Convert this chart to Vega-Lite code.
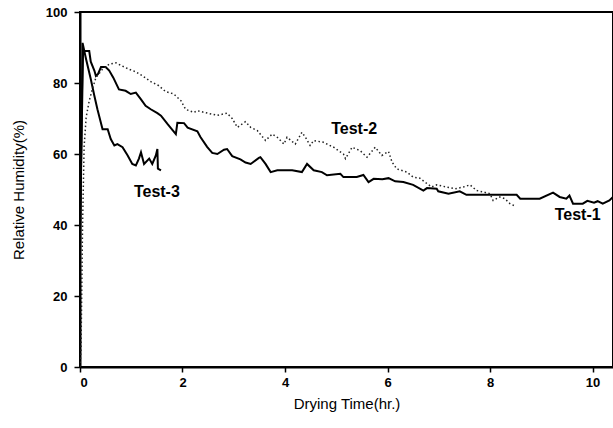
{
  "$schema": "https://vega.github.io/schema/vega-lite/v6.json",
  "autosize": {"type": "none"},
  "padding": {"left": 80, "top": 12, "right": 0, "bottom": 61},
  "width": 533,
  "height": 355,
  "background": "white",
  "config": {
    "view": {"stroke": "black", "strokeWidth": 2},
    "axis": {
      "grid": false,
      "domainColor": "black",
      "domainWidth": 2,
      "tickColor": "black",
      "tickWidth": 1.5,
      "labelFont": "Liberation Sans",
      "labelFontWeight": "bold",
      "labelFontSize": 13,
      "labelColor": "black",
      "titleFont": "Liberation Sans",
      "titleFontWeight": "normal",
      "titleFontSize": 15,
      "titleColor": "black"
    }
  },
  "datasets": {
    "curves": [
      {"s": "Test-1", "t": 0.0, "rh": 40},
      {"s": "Test-1", "t": 0.06, "rh": 89},
      {"s": "Test-1", "t": 0.18, "rh": 89},
      {"s": "Test-1", "t": 0.21, "rh": 86},
      {"s": "Test-1", "t": 0.28, "rh": 83.5},
      {"s": "Test-1", "t": 0.31, "rh": 82},
      {"s": "Test-1", "t": 0.35, "rh": 82.5},
      {"s": "Test-1", "t": 0.41, "rh": 84.5},
      {"s": "Test-1", "t": 0.5, "rh": 84.5},
      {"s": "Test-1", "t": 0.57, "rh": 83.5},
      {"s": "Test-1", "t": 0.65, "rh": 81.5},
      {"s": "Test-1", "t": 0.76, "rh": 78.2},
      {"s": "Test-1", "t": 0.89, "rh": 77.8},
      {"s": "Test-1", "t": 0.99, "rh": 76.9},
      {"s": "Test-1", "t": 1.09, "rh": 77.3},
      {"s": "Test-1", "t": 1.19, "rh": 75.4},
      {"s": "Test-1", "t": 1.28, "rh": 73.6},
      {"s": "Test-1", "t": 1.38, "rh": 72.6},
      {"s": "Test-1", "t": 1.51, "rh": 71.5},
      {"s": "Test-1", "t": 1.58, "rh": 70.8},
      {"s": "Test-1", "t": 1.71, "rh": 68.4},
      {"s": "Test-1", "t": 1.87, "rh": 65.6},
      {"s": "Test-1", "t": 1.9, "rh": 68.8},
      {"s": "Test-1", "t": 2.03, "rh": 68.7},
      {"s": "Test-1", "t": 2.1, "rh": 67.4},
      {"s": "Test-1", "t": 2.29, "rh": 66.4},
      {"s": "Test-1", "t": 2.35, "rh": 64.8},
      {"s": "Test-1", "t": 2.48, "rh": 62},
      {"s": "Test-1", "t": 2.58, "rh": 60.3},
      {"s": "Test-1", "t": 2.68, "rh": 60},
      {"s": "Test-1", "t": 2.81, "rh": 61.2},
      {"s": "Test-1", "t": 2.87, "rh": 61.4},
      {"s": "Test-1", "t": 2.97, "rh": 59.4},
      {"s": "Test-1", "t": 3.13, "rh": 58.5},
      {"s": "Test-1", "t": 3.23, "rh": 57.6},
      {"s": "Test-1", "t": 3.33, "rh": 57.2},
      {"s": "Test-1", "t": 3.49, "rh": 58.9},
      {"s": "Test-1", "t": 3.52, "rh": 59.1},
      {"s": "Test-1", "t": 3.62, "rh": 57.2},
      {"s": "Test-1", "t": 3.72, "rh": 54.9},
      {"s": "Test-1", "t": 3.85, "rh": 55.4},
      {"s": "Test-1", "t": 4.14, "rh": 55.4},
      {"s": "Test-1", "t": 4.33, "rh": 54.9},
      {"s": "Test-1", "t": 4.43, "rh": 57.2},
      {"s": "Test-1", "t": 4.56, "rh": 55.4},
      {"s": "Test-1", "t": 4.72, "rh": 54.9},
      {"s": "Test-1", "t": 4.82, "rh": 54},
      {"s": "Test-1", "t": 5.08, "rh": 54.4},
      {"s": "Test-1", "t": 5.14, "rh": 53.5},
      {"s": "Test-1", "t": 5.4, "rh": 53.5},
      {"s": "Test-1", "t": 5.53, "rh": 54.1},
      {"s": "Test-1", "t": 5.63, "rh": 52.1},
      {"s": "Test-1", "t": 5.73, "rh": 53},
      {"s": "Test-1", "t": 5.9, "rh": 52.9},
      {"s": "Test-1", "t": 6.02, "rh": 53.2},
      {"s": "Test-1", "t": 6.15, "rh": 52.3},
      {"s": "Test-1", "t": 6.31, "rh": 52.1},
      {"s": "Test-1", "t": 6.5, "rh": 51.3},
      {"s": "Test-1", "t": 6.7, "rh": 49.7},
      {"s": "Test-1", "t": 6.77, "rh": 50.4},
      {"s": "Test-1", "t": 6.96, "rh": 50.2},
      {"s": "Test-1", "t": 6.99, "rh": 49.5},
      {"s": "Test-1", "t": 7.19, "rh": 48.8},
      {"s": "Test-1", "t": 7.41, "rh": 49.5},
      {"s": "Test-1", "t": 7.54, "rh": 48.5},
      {"s": "Test-1", "t": 8.0, "rh": 48.5},
      {"s": "Test-1", "t": 8.52, "rh": 48.5},
      {"s": "Test-1", "t": 8.59, "rh": 47.4},
      {"s": "Test-1", "t": 8.97, "rh": 47.4},
      {"s": "Test-1", "t": 9.23, "rh": 49.1},
      {"s": "Test-1", "t": 9.36, "rh": 47.9},
      {"s": "Test-1", "t": 9.49, "rh": 47.4},
      {"s": "Test-1", "t": 9.55, "rh": 48.3},
      {"s": "Test-1", "t": 9.62, "rh": 46},
      {"s": "Test-1", "t": 9.81, "rh": 46},
      {"s": "Test-1", "t": 9.9, "rh": 46.8},
      {"s": "Test-1", "t": 10.03, "rh": 46.3},
      {"s": "Test-1", "t": 10.1, "rh": 46.7},
      {"s": "Test-1", "t": 10.2, "rh": 46},
      {"s": "Test-1", "t": 10.33, "rh": 46.9},
      {"s": "Test-1", "t": 10.4, "rh": 47.9},
      {"s": "Test-2", "t": 0.0, "rh": 0},
      {"s": "Test-2", "t": 0.02, "rh": 5},
      {"s": "Test-2", "t": 0.05, "rh": 40},
      {"s": "Test-2", "t": 0.08, "rh": 62},
      {"s": "Test-2", "t": 0.12, "rh": 70.3},
      {"s": "Test-2", "t": 0.18, "rh": 75},
      {"s": "Test-2", "t": 0.25, "rh": 78.7},
      {"s": "Test-2", "t": 0.31, "rh": 81.5},
      {"s": "Test-2", "t": 0.44, "rh": 83.9},
      {"s": "Test-2", "t": 0.57, "rh": 85.3},
      {"s": "Test-2", "t": 0.7, "rh": 85.7},
      {"s": "Test-2", "t": 0.82, "rh": 84.8},
      {"s": "Test-2", "t": 0.97, "rh": 83.8},
      {"s": "Test-2", "t": 1.08, "rh": 83.2},
      {"s": "Test-2", "t": 1.22, "rh": 82},
      {"s": "Test-2", "t": 1.39, "rh": 80.3},
      {"s": "Test-2", "t": 1.53, "rh": 79.3},
      {"s": "Test-2", "t": 1.67, "rh": 77.6},
      {"s": "Test-2", "t": 1.83, "rh": 76.9},
      {"s": "Test-2", "t": 1.97, "rh": 75},
      {"s": "Test-2", "t": 2.06, "rh": 72.6},
      {"s": "Test-2", "t": 2.22, "rh": 71.7},
      {"s": "Test-2", "t": 2.29, "rh": 72.2},
      {"s": "Test-2", "t": 2.52, "rh": 71.4},
      {"s": "Test-2", "t": 2.68, "rh": 70.9},
      {"s": "Test-2", "t": 2.87, "rh": 71.5},
      {"s": "Test-2", "t": 2.97, "rh": 70},
      {"s": "Test-2", "t": 3.07, "rh": 67.5},
      {"s": "Test-2", "t": 3.23, "rh": 69.1},
      {"s": "Test-2", "t": 3.33, "rh": 67.5},
      {"s": "Test-2", "t": 3.46, "rh": 66.6},
      {"s": "Test-2", "t": 3.62, "rh": 63.8},
      {"s": "Test-2", "t": 3.75, "rh": 65.6},
      {"s": "Test-2", "t": 3.85, "rh": 64.7},
      {"s": "Test-2", "t": 3.98, "rh": 62.8},
      {"s": "Test-2", "t": 4.04, "rh": 64.7},
      {"s": "Test-2", "t": 4.2, "rh": 62.8},
      {"s": "Test-2", "t": 4.33, "rh": 66.1},
      {"s": "Test-2", "t": 4.4, "rh": 64.7},
      {"s": "Test-2", "t": 4.49, "rh": 62.4},
      {"s": "Test-2", "t": 4.56, "rh": 63.8},
      {"s": "Test-2", "t": 4.75, "rh": 63.3},
      {"s": "Test-2", "t": 4.95, "rh": 61.9},
      {"s": "Test-2", "t": 5.14, "rh": 60},
      {"s": "Test-2", "t": 5.18, "rh": 58.7},
      {"s": "Test-2", "t": 5.31, "rh": 61.9},
      {"s": "Test-2", "t": 5.47, "rh": 60.9},
      {"s": "Test-2", "t": 5.6, "rh": 59.1},
      {"s": "Test-2", "t": 5.76, "rh": 61.9},
      {"s": "Test-2", "t": 5.89, "rh": 59.6},
      {"s": "Test-2", "t": 6.02, "rh": 60.7},
      {"s": "Test-2", "t": 6.09, "rh": 57.7},
      {"s": "Test-2", "t": 6.18, "rh": 55.8},
      {"s": "Test-2", "t": 6.38, "rh": 54.9},
      {"s": "Test-2", "t": 6.5, "rh": 53.5},
      {"s": "Test-2", "t": 6.63, "rh": 53.2},
      {"s": "Test-2", "t": 6.73, "rh": 52.1},
      {"s": "Test-2", "t": 6.86, "rh": 50.7},
      {"s": "Test-2", "t": 6.96, "rh": 51.3},
      {"s": "Test-2", "t": 7.15, "rh": 50.7},
      {"s": "Test-2", "t": 7.32, "rh": 50.2},
      {"s": "Test-2", "t": 7.48, "rh": 50.7},
      {"s": "Test-2", "t": 7.61, "rh": 51.3},
      {"s": "Test-2", "t": 7.74, "rh": 49.7},
      {"s": "Test-2", "t": 7.87, "rh": 49.3},
      {"s": "Test-2", "t": 8.0, "rh": 48.8},
      {"s": "Test-2", "t": 8.06, "rh": 46.9},
      {"s": "Test-2", "t": 8.19, "rh": 47.9},
      {"s": "Test-2", "t": 8.29, "rh": 47.4},
      {"s": "Test-2", "t": 8.39, "rh": 46},
      {"s": "Test-2", "t": 8.48, "rh": 45.4},
      {"s": "Test-3", "t": 0.0, "rh": 30},
      {"s": "Test-3", "t": 0.05, "rh": 91.3},
      {"s": "Test-3", "t": 0.12, "rh": 86.6},
      {"s": "Test-3", "t": 0.21, "rh": 81.1},
      {"s": "Test-3", "t": 0.28, "rh": 76.4},
      {"s": "Test-3", "t": 0.34, "rh": 72.6},
      {"s": "Test-3", "t": 0.44, "rh": 67},
      {"s": "Test-3", "t": 0.54, "rh": 67},
      {"s": "Test-3", "t": 0.6, "rh": 64.2},
      {"s": "Test-3", "t": 0.67, "rh": 62.4},
      {"s": "Test-3", "t": 0.73, "rh": 62.8},
      {"s": "Test-3", "t": 0.83, "rh": 61.9},
      {"s": "Test-3", "t": 0.93, "rh": 59.6},
      {"s": "Test-3", "t": 1.02, "rh": 57.2},
      {"s": "Test-3", "t": 1.09, "rh": 56.8},
      {"s": "Test-3", "t": 1.15, "rh": 58.7},
      {"s": "Test-3", "t": 1.19, "rh": 60.5},
      {"s": "Test-3", "t": 1.25, "rh": 57.2},
      {"s": "Test-3", "t": 1.35, "rh": 58.7},
      {"s": "Test-3", "t": 1.41, "rh": 57.2},
      {"s": "Test-3", "t": 1.48, "rh": 59.6},
      {"s": "Test-3", "t": 1.51, "rh": 61.4},
      {"s": "Test-3", "t": 1.52, "rh": 55.9},
      {"s": "Test-3", "t": 1.58, "rh": 55.4}
    ],
    "labels": [
      {"label": "Test-1", "t": 9.71, "rh": 42.9},
      {"label": "Test-2", "t": 5.35, "rh": 67},
      {"label": "Test-3", "t": 1.5, "rh": 49.3}
    ]
  },
  "layer": [
    {
      "data": {"name": "curves"},
      "transform": [{"filter": "datum.s !== 'Test-2'"}],
      "mark": {"type": "line", "color": "black", "strokeWidth": 2, "clip": true},
      "encoding": {
        "x": {
          "field": "t", "type": "quantitative",
          "scale": {"domain": [0, 10.4], "nice": false, "zero": false},
          "axis": {"values": [0, 2, 4, 6, 8, 10], "title": "Drying Time(hr.)", "tickSize": 5, "labelPadding": 4, "titlePadding": 7}
        },
        "y": {
          "field": "rh", "type": "quantitative",
          "scale": {"domain": [0, 100], "nice": false},
          "axis": {"values": [0, 20, 40, 60, 80, 100], "title": "Relative Humidity(%)", "tickSize": 6, "labelPadding": 7, "titlePadding": 19}
        },
        "detail": {"field": "s"}
      }
    },
    {
      "data": {"name": "curves"},
      "transform": [{"filter": "datum.s === 'Test-2'"}],
      "mark": {"type": "line", "color": "#222222", "strokeWidth": 1.5, "strokeDash": [1.5, 2.5], "clip": true},
      "encoding": {
        "x": {"field": "t", "type": "quantitative"},
        "y": {"field": "rh", "type": "quantitative"}
      }
    },
    {
      "data": {"name": "labels"},
      "mark": {"type": "text", "font": "Liberation Sans", "fontWeight": "bold", "fontSize": 16, "color": "black", "align": "center", "baseline": "middle"},
      "encoding": {
        "x": {"field": "t", "type": "quantitative"},
        "y": {"field": "rh", "type": "quantitative"},
        "text": {"field": "label"}
      }
    }
  ]
}
